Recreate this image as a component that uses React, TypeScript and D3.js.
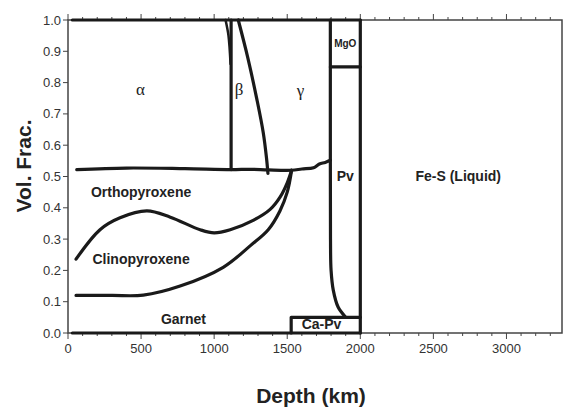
import React from 'react'
import * as d3 from 'd3'

// phase boundaries: [depth km, vol. frac.]
const topEdge: [number, number][] = [[30, 1.0], [2000, 1.0]]
const bottomEdge: [number, number][] = [[30, 0.0], [2000, 0.0]]
const olivineBase: [number, number][] = [[60, 0.522], [400, 0.527], [800, 0.525], [1116, 0.522], [1250, 0.523], [1370, 0.521], [1530, 0.52], [1600, 0.524], [1680, 0.528], [1720, 0.54], [1760, 0.545], [1795, 0.552]]
const alphaBeta: [number, number][] = [[1116, 1.0], [1116, 0.522]]
const alphaWedge: [number, number][] = [[1078, 1.0], [1098, 0.95], [1112, 0.86]]
const betaGamma: [number, number][] = [[1165, 1.0], [1230, 0.88], [1293, 0.745], [1336, 0.64], [1358, 0.56], [1368, 0.51]]
const pvEdge: [number, number][] = [[1795, 1.0], [1795, 0.55], [1796, 0.3], [1800, 0.2], [1815, 0.137], [1848, 0.083], [1897, 0.052]]
const mgoBase: [number, number][] = [[1795, 0.85], [2000, 0.85]]
const coreEdge: [number, number][] = [[2000, 0.0], [2000, 1.0]]
const caPv: [number, number][] = [[1527, 0.0], [1527, 0.05], [2000, 0.05]]
const garnetTop: [number, number][] = [[55, 0.12], [300, 0.12], [515, 0.121], [767, 0.15], [1062, 0.21], [1250, 0.28], [1370, 0.33], [1450, 0.39], [1500, 0.45], [1530, 0.52]]
const cpxTop: [number, number][] = [[55, 0.236], [219, 0.33], [356, 0.368], [540, 0.39], [700, 0.37], [904, 0.33], [1000, 0.32], [1110, 0.33], [1267, 0.36], [1383, 0.395], [1452, 0.435], [1500, 0.48], [1530, 0.52]]

const xMajor = [0, 500, 1000, 1500, 2000, 2500, 3000]
const yMajor = [0, 0.1, 0.2, 0.3, 0.4, 0.5, 0.6, 0.7, 0.8, 0.9, 1.0]

const labels = [
  { text: 'α', x: 495, y: 0.78, size: 17, bold: false, font: 'Liberation Serif, serif' },
  { text: 'β', x: 1170, y: 0.78, size: 17, bold: false, font: 'Liberation Serif, serif' },
  { text: 'γ', x: 1590, y: 0.775, size: 17, bold: false, font: 'Liberation Serif, serif' },
  { text: 'MgO', x: 1897, y: 0.925, size: 10, bold: true },
  { text: 'Pv', x: 1897, y: 0.5, size: 14, bold: true },
  { text: 'Fe-S (Liquid)', x: 2670, y: 0.5, size: 14, bold: true },
  { text: 'Orthopyroxene', x: 500, y: 0.45, size: 14, bold: true },
  { text: 'Clinopyroxene', x: 500, y: 0.235, size: 14, bold: true },
  { text: 'Garnet', x: 790, y: 0.045, size: 14, bold: true },
  { text: 'Ca-Pv', x: 1735, y: 0.03, size: 14, bold: true },
]

const W = 563
const H = 407

const App = () => {
  const x = d3.scaleLinear().domain([0, 3380]).range([68, 562])
  const y = d3.scaleLinear().domain([0, 1]).range([333, 20])
  const xMinor = d3.range(0, 3400, 100)

  const smooth = d3.line<[number, number]>()
    .x(d => x(d[0]))
    .y(d => y(d[1]))
    .curve(d3.curveCatmullRom)
  const straight = d3.line<[number, number]>()
    .x(d => x(d[0]))
    .y(d => y(d[1]))

  const thick = { fill: 'none', stroke: '#1a1a1a', strokeWidth: 3.2, strokeLinejoin: 'round' as const, strokeLinecap: 'round' as const }
  const axisColor = '#444'
  const font = 'Liberation Sans, Arial, sans-serif'

  return (
    <svg width={W} height={H} style={{ position: 'absolute', left: 0, top: 0, background: '#fff' }}>
      {/* frame */}
      <rect x={x(0)} y={y(1)} width={x(3380) - x(0)} height={y(0) - y(1)} fill="none" stroke={axisColor} strokeWidth={1.5} />

      {/* bottom + top ticks */}
      {xMinor.map(v => {
        const major = v % 500 === 0
        const len = major ? 6 : 3
        return (
          <g key={v} stroke={axisColor} strokeWidth={1}>
            <line x1={x(v)} x2={x(v)} y1={y(0)} y2={y(0) + len} />
            <line x1={x(v)} x2={x(v)} y1={y(1)} y2={y(1) - len} />
          </g>
        )
      })}
      {xMajor.map(v => (
        <text key={v} x={x(v)} y={y(0) + 20} textAnchor="middle" fontFamily={font} fontSize={13} fill="#333">{v}</text>
      ))}

      {/* left ticks */}
      {yMajor.map(v => (
        <g key={v}>
          <line x1={x(0) - 5} x2={x(0)} y1={y(v)} y2={y(v)} stroke={axisColor} strokeWidth={1} />
          <text x={x(0) - 7} y={y(v)} dy="0.35em" textAnchor="end" fontFamily={font} fontSize={13} fill="#333">{d3.format('.1f')(v)}</text>
        </g>
      ))}

      {/* phase boundaries */}
      <path d={straight(topEdge) ?? ''} {...thick} />
      <path d={straight(bottomEdge) ?? ''} {...thick} />
      <path d={smooth(olivineBase) ?? ''} {...thick} />
      <path d={straight(alphaBeta) ?? ''} {...thick} />
      <path d={smooth(alphaWedge) ?? ''} {...thick} strokeWidth={2.5} />
      <path d={smooth(betaGamma) ?? ''} {...thick} />
      <path d={smooth(pvEdge) ?? ''} {...thick} />
      <path d={straight(mgoBase) ?? ''} {...thick} />
      <path d={straight(coreEdge) ?? ''} {...thick} />
      <path d={straight(caPv) ?? ''} {...thick} />
      <path d={smooth(garnetTop) ?? ''} {...thick} />
      <path d={smooth(cpxTop) ?? ''} {...thick} />

      {labels.map(l => (
        <text key={l.text} x={x(l.x)} y={y(l.y)} dy="0.35em" textAnchor="middle"
          fontFamily={l.font ?? font} fontSize={l.size} fontWeight={l.bold ? 'bold' : 'normal'} fill="#222">{l.text}</text>
      ))}

      {/* axis titles */}
      <text x={311} y={403} textAnchor="middle" fontFamily={font} fontSize={21} fontWeight="bold" fill="#222">Depth (km)</text>
      <text transform="translate(31,166) rotate(-90)" textAnchor="middle" fontFamily={font} fontSize={21} fontWeight="bold" fill="#222">Vol. Frac.</text>
    </svg>
  )
}

export default App
